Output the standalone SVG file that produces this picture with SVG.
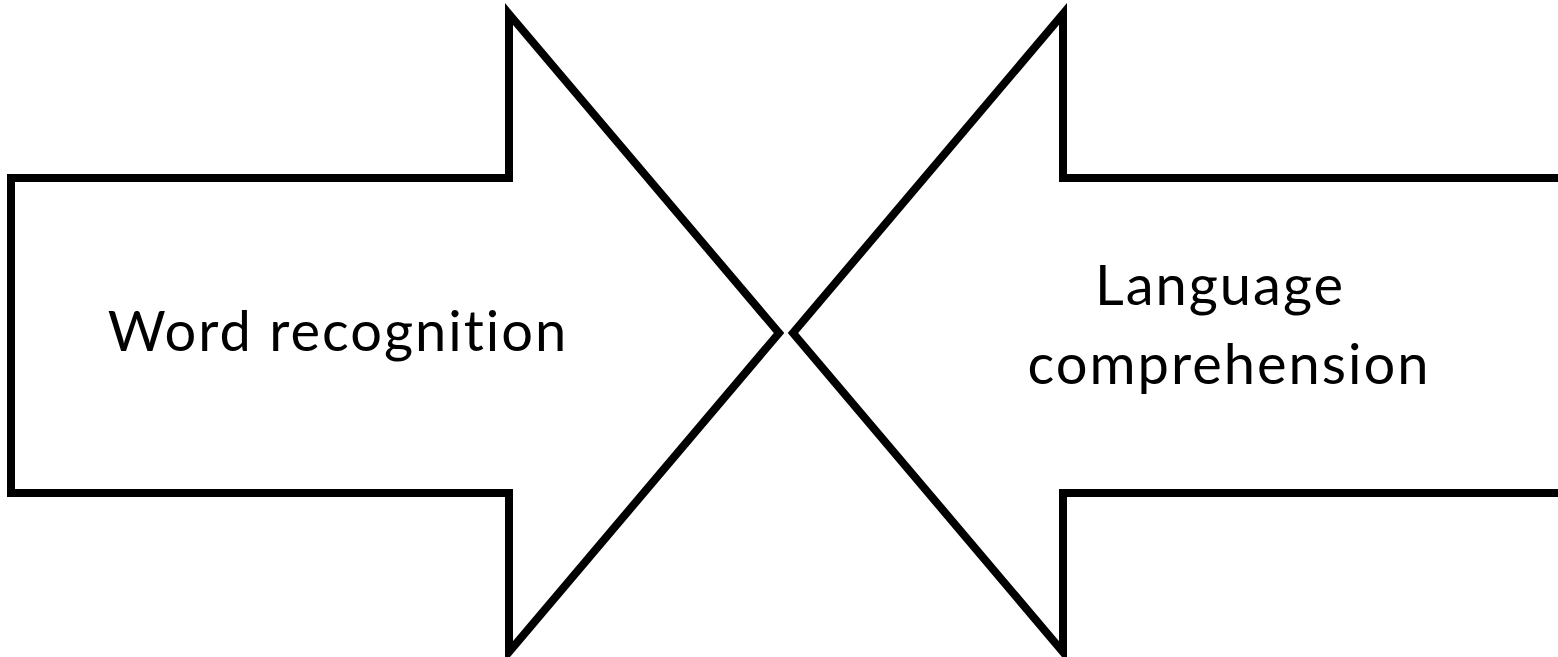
<svg xmlns="http://www.w3.org/2000/svg" width="1558" height="657" viewBox="0 0 1558 657">
<style>
.arrow{fill:#fff;stroke:#000;stroke-width:8;stroke-miterlimit:10}
.lbl{font-family:Lato,"Open Sans",sans-serif;font-size:56px;fill:#000;text-anchor:middle;letter-spacing:2px}
</style>
<rect width="1558" height="657" fill="#fff"/>
<g id="word-recognition">
<polygon class="arrow" points="11,178 509,178 509,14 779,333 509,652 509,493 11,493"/>
<text class="lbl" x="338" y="351">Word recognition</text>
</g>
<g id="language-comprehension">
<polygon class="arrow" points="1570,178 1063,178 1063,14 793,333 1063,652 1063,493 1570,493"/>
<text class="lbl" x="1220" y="305">Language</text>
<text class="lbl" x="1229" y="384">comprehension</text>
</g>
<g id="connectors"/>
</svg>
